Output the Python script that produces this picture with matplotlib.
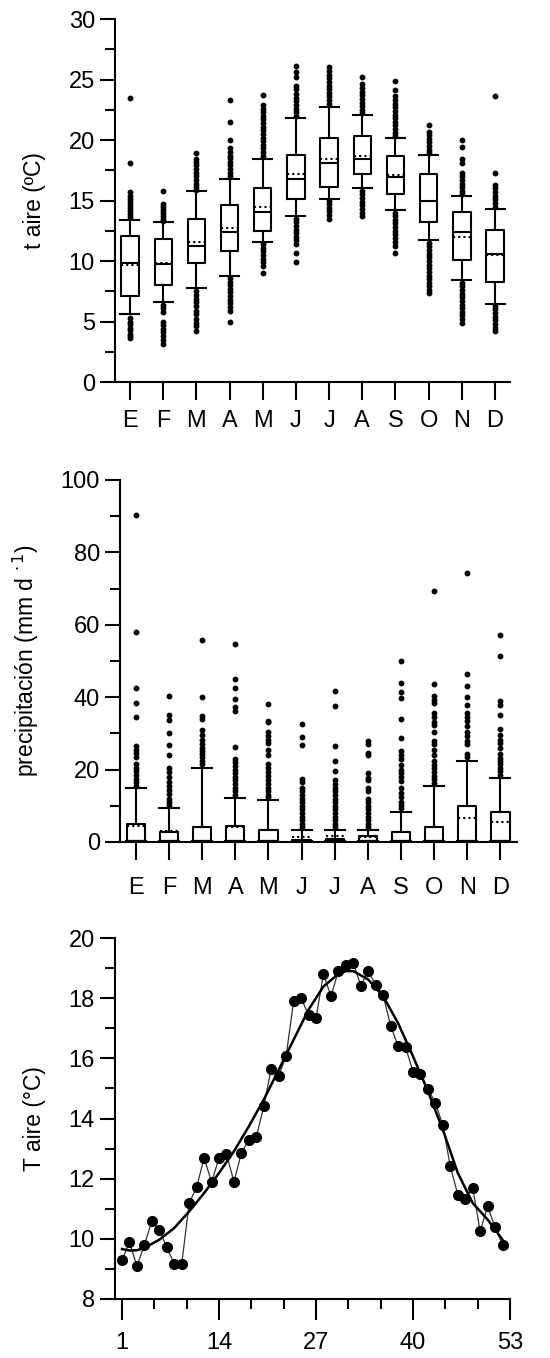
"""
Temperatura y precipitacion mensual (boxplots) y temperatura semanal media.
"""

import matplotlib
matplotlib.use("Agg")
import matplotlib.pyplot as plt
from matplotlib.ticker import MultipleLocator, FixedLocator

plt.rcParams["font.family"] = ["Liberation Sans Narrow", "Liberation Sans", "DejaVu Sans"]

MONTHS = ["E", "F", "M", "A", "M", "J", "J", "A", "S", "O", "N", "D"]

# --- t aire: box statistics per month ---
T_MED = [9.8, 9.75, 11.2, 12.4, 14.05, 16.8, 18.1, 18.45, 16.95, 15.0, 12.4, 10.55]
T_MEAN = [9.7, 9.8, 11.55, 12.7, 14.5, 17.15, 18.45, 18.65, 17.1, 15.0, 12.0, 10.5]
T_Q1 = [7.1, 8.05, 9.85, 10.85, 12.5, 15.15, 16.15, 17.2, 15.5, 13.2, 10.05, 8.25]
T_Q3 = [12.05, 11.85, 13.5, 14.65, 16.0, 18.8, 20.15, 20.3, 18.65, 17.2, 14.05, 12.55]
T_WLO = [5.6, 6.6, 7.75, 8.75, 11.55, 13.7, 15.15, 16.0, 14.2, 11.7, 8.4, 6.45]
T_WHI = [13.4, 13.2, 15.8, 16.8, 18.45, 21.8, 22.75, 22.1, 20.15, 18.8, 15.35, 14.3]
T_FLIERS = [
    [23.5, 18.1, 15.7, 15.4, 15.1, 14.9, 14.6, 14.4, 14.1, 13.9, 13.6,
     5.3, 5.0, 4.8, 4.5, 4.3, 4.0, 3.8, 3.6],
    [15.8, 14.7, 14.5, 14.2, 14.0, 13.7, 13.5, 13.3,
     6.4, 6.1, 5.8, 5.0, 4.7, 4.4, 4.1, 3.8, 3.5, 3.1],
    [18.9, 18.4, 18.2, 17.9, 17.6, 17.3, 17.0, 16.7, 16.4, 16.1, 15.9,
     7.5, 7.2, 6.9, 6.6, 6.3, 5.9, 5.6, 5.2, 4.9, 4.6, 4.2],
    [23.3, 21.45, 20.0, 19.3, 19.0, 18.7, 18.5, 18.2, 17.9, 17.6, 17.3, 17.0,
     8.6, 8.3, 8.0, 7.7, 7.4, 7.1, 6.8, 6.5, 6.2, 5.9, 5.0],
    [23.7, 22.9, 22.6, 22.3, 22.0, 21.7, 21.4, 21.1, 20.8, 20.5, 20.2, 19.9,
     19.6, 19.3, 19.0, 18.7, 11.4, 11.1, 10.8, 10.5, 10.2, 9.9, 9.6, 9.05],
    [26.1, 25.6, 25.2, 24.5, 24.2, 23.8, 23.5, 23.2, 22.9, 22.6, 22.3, 22.0,
     13.5, 13.2, 12.9, 12.6, 12.3, 12.0, 11.7, 11.4, 10.65, 9.9],
    [26.0, 25.7, 25.4, 25.1, 24.8, 24.5, 24.2, 23.9, 23.6, 23.3, 23.0,
     15.0, 14.7, 14.4, 14.1, 13.8, 13.5],
    [25.2, 24.6, 24.3, 24.0, 23.7, 23.4, 23.1, 22.8, 22.5, 22.2,
     15.8, 15.5, 15.2, 14.9, 14.6, 14.3, 14.0, 13.75],
    [24.9, 24.1, 23.6, 23.3, 23.0, 22.7, 22.4, 22.1, 21.8, 21.5, 21.2, 20.9, 20.6, 20.3,
     14.0, 13.7, 13.4, 13.1, 12.8, 12.5, 12.2, 11.9, 11.6, 11.2, 10.7],
    [21.2, 20.7, 20.4, 20.1, 19.8, 19.5, 19.2, 18.9,
     11.5, 11.2, 10.9, 10.6, 10.3, 10.0, 9.7, 9.4, 9.1, 8.8, 8.5, 8.2, 7.9, 7.6, 7.35],
    [20.0, 19.45, 18.4, 18.1, 17.3, 17.0, 16.7, 16.4, 16.1, 15.8, 15.5,
     8.2, 7.9, 7.6, 7.3, 7.0, 6.7, 6.4, 6.1, 5.8, 5.5, 5.2, 4.85],
    [23.6, 17.3, 16.3, 16.0, 15.7, 15.4, 15.1, 14.8, 14.5,
     6.3, 6.0, 5.7, 5.4, 5.1, 4.8, 4.5, 4.25],
]

# --- precipitacion: box statistics per month ---
P_MED = [0.4] * 12
P_MEAN = [4.5, 3.1, 4.0, 4.2, 3.2, 1.3, 1.7, 1.4, 2.8, 4.0, 6.6, 5.5]
P_Q1 = [0.4] * 12
P_Q3 = [5.05, 2.85, 4.15, 4.5, 3.4, 0.6, 0.8, 1.6, 2.85, 4.15, 10.0, 8.4]
P_WHI = [14.9, 9.5, 20.5, 12.1, 11.7, 3.4, 3.4, 3.4, 8.3, 15.4, 22.5, 17.7]
P_FLIERS = [
    [90.4, 58.0, 42.5, 38.3, 34.5, 26.5, 25.5, 24.5, 23.5, 21.5, 20.5, 19.5, 18.5, 17.5, 16.5, 15.5],
    [40.3, 35.0, 33.8, 30.0, 26.8, 24.0, 20.3, 19.3, 18.0, 16.5, 15.5, 14.3, 13.2, 12.0, 11.0, 10.2],
    [55.9, 40.0, 34.8, 34.0, 31.0, 29.5, 28.3, 27.0, 26.0, 25.0, 24.3, 23.5, 22.5, 21.5],
    [54.6, 45.1, 42.6, 39.5, 37.3, 36.3, 26.2, 23.0, 22.0, 21.0, 20.0, 19.0, 18.0, 17.0,
     16.0, 15.0, 14.0, 13.0],
    [38.0, 33.5, 33.0, 30.3, 29.3, 28.3, 27.3, 25.5, 24.0, 21.5, 20.3, 19.3, 18.3, 17.0,
     16.0, 15.0, 14.0, 13.0, 12.3],
    [32.5, 29.0, 26.8, 17.5, 16.5, 15.0, 14.0, 13.0, 12.0, 11.0, 10.0, 9.0, 8.0, 7.0,
     6.0, 5.0, 4.2],
    [41.6, 37.6, 26.5, 22.4, 19.5, 17.0, 16.0, 15.0, 14.0, 13.0, 12.0, 11.0, 10.0, 9.0,
     8.0, 7.0, 6.0, 5.0, 4.2],
    [28.0, 27.0, 24.7, 24.0, 19.0, 17.8, 17.0, 15.0, 14.0, 12.0, 11.0, 10.0, 9.0, 8.0,
     7.0, 6.0, 5.0, 4.2],
    [50.0, 44.0, 41.3, 39.8, 33.9, 28.8, 25.2, 24.0, 22.8, 21.3, 19.9, 19.0, 18.0, 16.8,
     15.0, 13.6, 12.3, 11.0, 10.2, 9.3],
    [69.2, 43.7, 40.3, 39.3, 38.5, 35.5, 34.5, 33.0, 32.3, 30.3, 28.0, 27.0, 25.5, 24.0,
     22.3, 21.3, 20.3, 19.3, 18.3, 17.3, 16.3],
    [74.3, 46.5, 43.0, 40.0, 37.8, 35.5, 34.5, 33.5, 32.0, 30.3, 29.3, 28.0, 27.0, 24.2, 23.5],
    [57.1, 51.4, 39.0, 37.8, 35.0, 31.3, 29.5, 28.3, 27.3, 26.0, 24.3, 23.3, 22.3, 21.5,
     20.5, 19.5, 18.5],
]

# --- T aire semanal ---
WEEKS = list(range(1, 53))
T_WEEK = [9.29, 9.89, 9.09, 9.81, 10.58, 10.30, 9.72, 9.16, 9.16, 11.19,
          11.72, 12.69, 11.89, 12.68, 12.82, 11.90, 12.85, 13.30, 13.39, 14.40,
          15.66, 15.42, 16.09, 17.90, 18.00, 17.45, 17.34, 18.81, 18.06, 18.91,
          19.09, 19.17, 18.42, 18.89, 18.45, 18.09, 17.09, 16.40, 16.38, 15.55,
          15.49, 14.98, 14.52, 13.77, 12.41, 11.47, 11.32, 11.69, 10.25, 11.08,
          10.38, 9.81]
FIT_WEEKS = [1, 2, 3, 4, 6, 8, 10, 12, 14, 16, 18, 20, 22, 24, 26, 28, 30, 31, 32,
             34, 36, 38, 40, 42, 44, 46, 48, 50, 52]
FIT_T = [9.66, 9.61, 9.62, 9.70, 9.97, 10.36, 10.91, 11.52, 12.19, 12.91, 13.74, 14.63,
         15.62, 16.62, 17.62, 18.39, 18.81, 18.90, 18.90, 18.62, 18.06, 17.17, 16.07,
         14.90, 13.63, 12.19, 11.19, 10.64, 9.97]

TICK_FS = 17
LABEL_FS = 16.5
LW = 1.5


def style_axis(ax):
    for side in ("top", "right"):
        ax.spines[side].set_visible(False)
    for side in ("left", "bottom"):
        ax.spines[side].set_linewidth(LW)
    ax.tick_params(which="major", length=11, width=LW, labelsize=TICK_FS, direction="out")
    ax.tick_params(which="minor", length=7, width=LW, direction="out")


def box_stats(med, mean, q1, q3, wlo, whi, fliers):
    return [
        dict(med=med[i], mean=mean[i], q1=q1[i], q3=q3[i],
             whislo=wlo[i], whishi=whi[i], fliers=fliers[i])
        for i in range(len(med))
    ]


def draw_boxes(ax, stats, width, ms):
    ax.bxp(
        stats,
        positions=range(1, 13),
        widths=width,
        capwidths=width * 1.1,
        showmeans=True,
        meanline=True,
        boxprops=dict(color="black", linewidth=LW),
        whiskerprops=dict(color="black", linewidth=LW),
        capprops=dict(color="black", linewidth=LW),
        medianprops=dict(color="black", linewidth=LW),
        meanprops=dict(color="black", linewidth=LW, linestyle=(0, (1, 1.5))),
        flierprops=dict(marker="o", markerfacecolor="black", markeredgecolor="black",
                        markersize=ms, linestyle="none"),
    )


fig = plt.figure(figsize=(5.5, 13.58), dpi=100)

# panel 1: t aire
ax1 = fig.add_axes([0.2091, 0.7187, 0.7182, 0.2673])
draw_boxes(ax1, box_stats(T_MED, T_MEAN, T_Q1, T_Q3, T_WLO, T_WHI, T_FLIERS), 0.52, 3.2)
ax1.set_xlim(0.55, 12.45)
ax1.set_ylim(0, 30)
ax1.yaxis.set_major_locator(MultipleLocator(5))
ax1.yaxis.set_minor_locator(MultipleLocator(2.5))
ax1.set_xticks(range(1, 13))
ax1.set_xticklabels(MONTHS)
style_axis(ax1)
ax1.tick_params(axis="x", length=13, pad=7)
ax1.set_ylabel("t aire (ºC)", fontsize=LABEL_FS, family="Liberation Sans", labelpad=16)

# panel 2: precipitacion
ax2 = fig.add_axes([0.2182, 0.380, 0.7218, 0.2666])
draw_boxes(ax2, box_stats(P_MED, P_MEAN, P_Q1, P_Q3, P_Q1, P_WHI, P_FLIERS), 0.55, 3.2)
ax2.set_xlim(0.52, 12.5)
ax2.set_ylim(0, 100)
ax2.yaxis.set_major_locator(MultipleLocator(20))
ax2.yaxis.set_minor_locator(MultipleLocator(10))
ax2.set_xticks(range(1, 13))
ax2.set_xticklabels(MONTHS)
style_axis(ax2)
ax2.tick_params(axis="x", length=13, pad=12)
ax2.set_ylabel("precipitación (mm d $^{\\cdot\\,1}$)", fontsize=LABEL_FS,
               family="Liberation Sans", labelpad=14)

# panel 3: T aire semanal
ax3 = fig.add_axes([0.2091, 0.04345, 0.7182, 0.2658])
ax3.plot(WEEKS, T_WEEK, color="#333333", linewidth=0.9, marker="o",
         markersize=7, markerfacecolor="black", markeredgecolor="black", zorder=3)
ax3.plot(FIT_WEEKS, FIT_T, color="black", linewidth=1.8, zorder=4)
ax3.set_xlim(0.06, 53)
ax3.set_ylim(8, 20)
ax3.xaxis.set_major_locator(FixedLocator([1, 14, 27, 40, 53]))
ax3.xaxis.set_minor_locator(FixedLocator([1 + k * 13 / 3 for k in range(13)]))
ax3.yaxis.set_major_locator(MultipleLocator(2))
ax3.yaxis.set_minor_locator(MultipleLocator(1))
style_axis(ax3)
ax3.tick_params(axis="x", which="major", length=15, pad=9)
ax3.set_ylabel("T aire (°C)", fontsize=LABEL_FS, family="Liberation Sans", labelpad=16)

fig.savefig("out.png", dpi=100)
